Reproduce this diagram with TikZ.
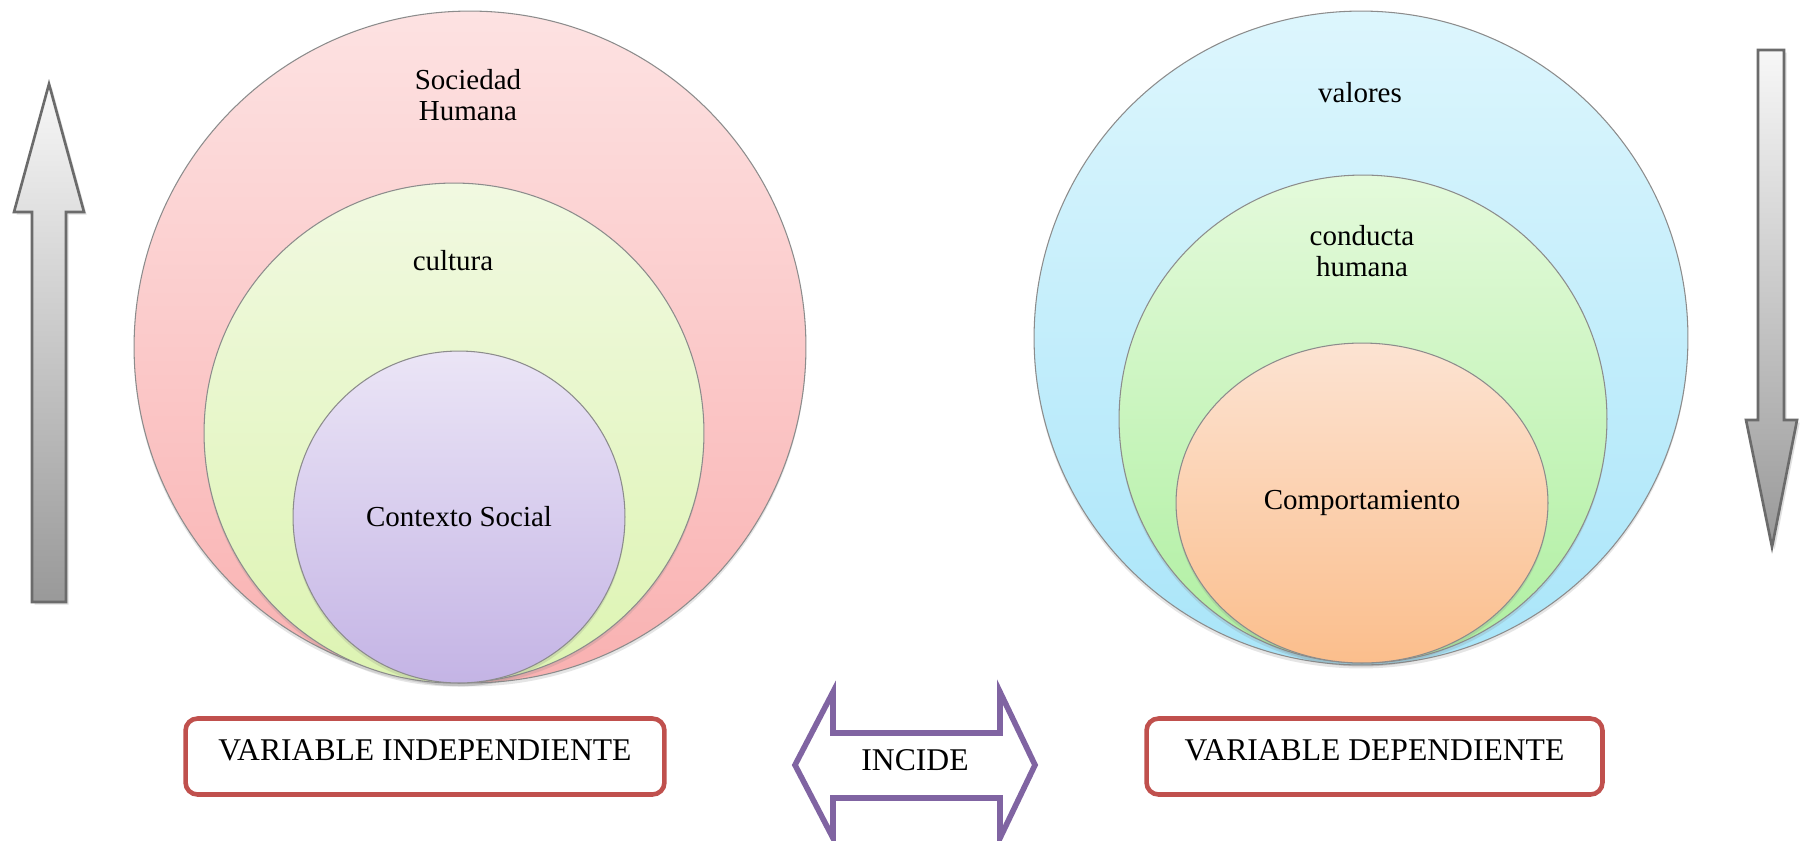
\documentclass[tikz,border=0pt]{standalone}
\usepackage{fontspec}
\setmainfont{Liberation Serif}
\usetikzlibrary{shapes.geometric, shadows}
\definecolor{boxred}{HTML}{C0504D}
\definecolor{incpurple}{HTML}{8064A2}
\definecolor{rimgray}{HTML}{8C8C8C}
\definecolor{arrowgray}{HTML}{6B6B6B}
\definecolor{socTop}{HTML}{FDE2E2}\definecolor{socBot}{HTML}{F9B1B1}
\definecolor{culTop}{HTML}{F1F9E1}\definecolor{culBot}{HTML}{DDF4B2}
\definecolor{ctxTop}{HTML}{EBE5F6}\definecolor{ctxBot}{HTML}{C4B4E5}
\definecolor{valTop}{HTML}{DDF6FD}\definecolor{valBot}{HTML}{A9E5F9}
\definecolor{conTop}{HTML}{E4FADB}\definecolor{conBot}{HTML}{AEEFA0}
\definecolor{comTop}{HTML}{FCE3D2}\definecolor{comBot}{HTML}{FBBE8C}
\tikzset{
ring/.style={circle, draw=rimgray, line width=0.6pt, inner sep=0pt,
  font=\fontsize{16.5}{17.5}\selectfont,
  drop shadow={shadow xshift=0pt, shadow yshift=-2pt, opacity=0.2}},
oval/.style={ring, ellipse},
lbl/.style={align=center, inner sep=0pt, font=\fontsize{16.5}{17.5}\selectfont},
varbox/.style={draw=boxred, line width=2.6pt, rounded corners=0.24cm, fill=white,
  minimum height=1.52cm, text depth=0.24cm, inner sep=0pt,
  font=\fontsize{18}{20}\selectfont},
vertarrow/.style={draw=arrowgray, line width=1.5pt, line join=miter,
  top color=white!97!black, bottom color=black!40,
  drop shadow={shadow xshift=1.5pt, shadow yshift=-1.5pt, opacity=0.25}},
incarrow/.style={draw=incpurple, line width=3.2pt, line join=miter, fill=white}
}
\begin{document}
\begin{tikzpicture}[x=0.02cm, y=-0.02cm]
\fill[white] (0,0) rectangle (1804,840);
\useasboundingbox (0,0) rectangle (1804,840);
% independent side
\node[ring, minimum size=13.44cm, top color=socTop, bottom color=socBot] (soc) at (470,347) {};
\node[ring, minimum size=10cm, top color=culTop, bottom color=culBot] (cul) at (454,433) {};
\node[ring, minimum size=6.64cm, top color=ctxTop, bottom color=ctxBot] (ctx) at (459,517) {Contexto Social};
\node[lbl] (soclbl) at (468,95) {Sociedad\\Humana};
\node[lbl] (cullbl) at (453,261) {cultura};
% dependent side
\node[ring, minimum size=13.08cm, top color=valTop, bottom color=valBot] (val) at (1361,338) {};
\node[ring, minimum size=9.76cm, top color=conTop, bottom color=conBot] (con) at (1363,419) {};
\node[oval, minimum width=7.44cm, minimum height=6.4cm, top color=comTop, bottom color=comBot] (com) at (1362,503) {Comportamiento};
\node[lbl] (vallbl) at (1360,93) {valores};
\node[lbl] (conlbl) at (1362,251) {conducta\\humana};
% side arrows
\draw[vertarrow] (32,602) -- (32,212) -- (14,212) -- (49,84) -- (84,212) -- (66,212) -- (66,602) -- cycle;
\draw[vertarrow] (1758,50) -- (1784,50) -- (1784,420) -- (1797,420) -- (1772,547) -- (1746,420) -- (1758,420) -- cycle;
% bottom row
\node[varbox, minimum width=9.58cm] (indep) at (425,756.5) {VARIABLE INDEPENDIENTE};
\node[varbox, minimum width=9.12cm] (dep) at (1374.5,756.5) {VARIABLE DEPENDIENTE};
\draw[incarrow] (795,765) -- (833,692) -- (833,733) -- (1000,733) -- (1000,692) -- (1035,765)
  -- (1000,838) -- (1000,798) -- (833,798) -- (833,838) -- cycle;
\node[inner sep=0pt, font=\fontsize{18}{20}\selectfont] (incide) at (915,760.5) {INCIDE};
\end{tikzpicture}
\end{document}
